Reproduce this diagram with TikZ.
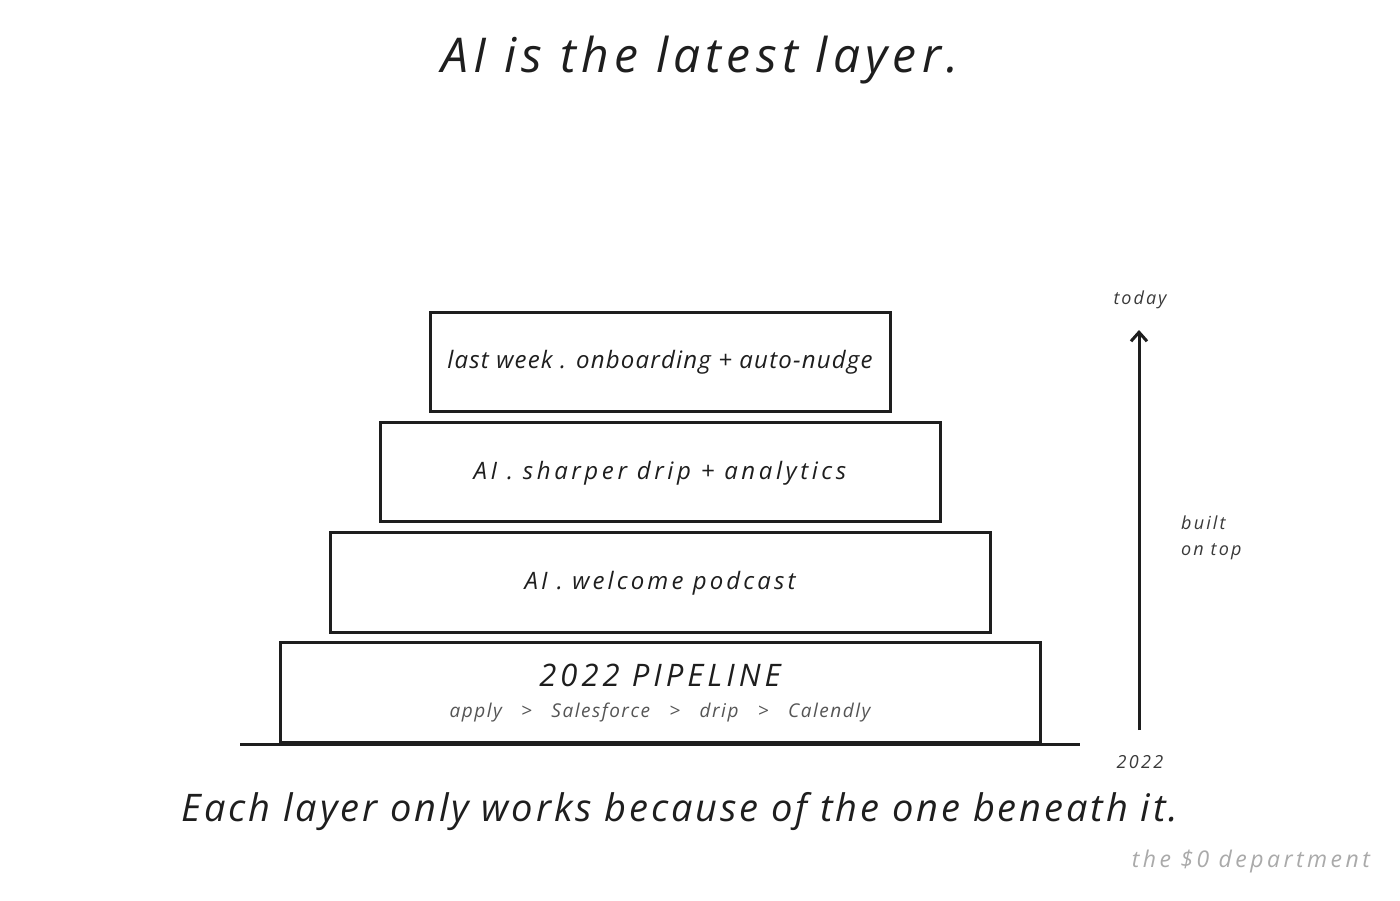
\documentclass[tikz,border=0pt]{standalone}
\usepackage{fontspec}
\setmainfont{Open Sans}
\usetikzlibrary{arrows.meta}
\definecolor{ink}{HTML}{1E1E1E}
\definecolor{sub}{HTML}{555555}
\definecolor{lbl}{HTML}{3A3A3A}
\definecolor{foot}{HTML}{AAAAAA}
\newcommand{\hfnt}[2]{\itshape\fontsize{#1}{#1}\selectfont\addfontfeatures{LetterSpace=#2}}
\tikzset{
  layer/.style={draw=ink, line width=3pt, fill=white, inner sep=0pt},
  txt/.style={text=ink, inner sep=0pt},
  small/.style={text=lbl, inner sep=0pt, font=\hfnt{18}{12}},
}
\begin{document}
\begin{tikzpicture}[x=1pt,y=-1pt]
\useasboundingbox[fill=white] (0,0) rectangle (1400,900);
% title
\node[txt, font=\hfnt{48}{11}] (title) at (700,60) {AI is the latest layer.};
% layers
\node[layer, minimum width=460pt, minimum height=99pt] (l4) at (660,361.5) {};
\node[txt, font=\hfnt{24}{5}] (t4) at (660,362) {last week . onboarding + auto-nudge};
\node[layer, minimum width=560pt, minimum height=99pt] (l3) at (660,471.5) {};
\node[txt, font=\hfnt{24}{15}] (t3) at (660,473) {AI . sharper drip + analytics};
\node[layer, minimum width=660pt, minimum height=100pt] (l2) at (660,582) {};
\node[txt, font=\hfnt{24}{13}] (t2) at (660,583) {AI . welcome podcast};
\node[layer, minimum width=760pt, minimum height=100pt] (l1) at (660,692) {};
\node[txt, font=\hfnt{31}{13}] (t1) at (660,675) {2022 PIPELINE};
\node[txt, text=sub, font=\hfnt{19}{8}] (t1s) at (660,713) {apply \ \ > \ \ Salesforce \ \ > \ \ drip \ \ > \ \ Calendly};
% ground
\coordinate (g0) at (240,744);
\coordinate (g1) at (1080,744);
\draw[ink, line width=3pt] (g0) -- (g1);
% arrow
\node[small, font=\hfnt{18}{11}] (today) at (1140,300) {today};
\node[small, font=\hfnt{18}{13}] (yr) at (1140,762) {2022};
\coordinate (a0) at (1139,730);
\coordinate (a1) at (1139,330);
\draw[ink, line width=3pt, -{Straight Barb[length=9pt,width=16pt,line width=3pt]}] (a0) -- (a1);
\node[small, anchor=west] (built) at (1181,523) {built};
\node[small, anchor=west] (ontop) at (1181,552) {on top};
% bottom sentence
\node[txt, font=\hfnt{38}{7.6}] (sent) at (680,812) {Each layer only works because of the one beneath it.};
\node[txt, text=foot, font=\hfnt{23}{15}, anchor=east] (foot) at (1370,862) {the \$0 department};
\end{tikzpicture}
\end{document}
